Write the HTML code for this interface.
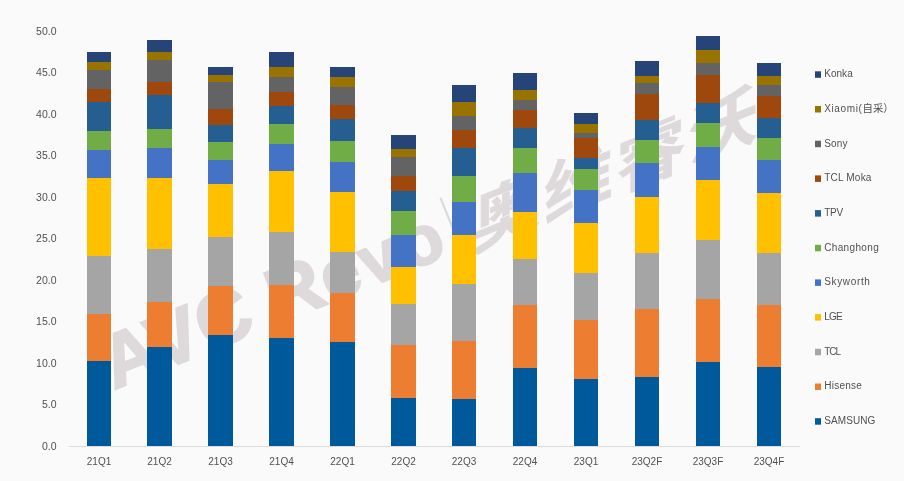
<!DOCTYPE html>
<html><head><meta charset="utf-8"><title>Chart</title>
<style>
html,body{margin:0;padding:0;background:#fafafa;}
body{width:904px;height:481px;overflow:hidden;}
svg{display:block;}
text{font-family:"Liberation Sans","Noto Sans CJK SC",sans-serif;fill:#505050;}
.wm{font-family:"Liberation Sans","Noto Sans CJK SC",sans-serif;font-weight:bold;fill:#dedadc;stroke:#dedadc;}
</style></head><body>
<svg width="904" height="481" viewBox="0 0 904 481">
<rect x="0" y="0" width="904" height="481" fill="#fafafa"/>
<g transform="translate(113.7,390) rotate(-21.9)"><text class="wm" x="0" y="0" font-size="76" letter-spacing="0.5" stroke-width="2">AVC R<tspan font-size="70" letter-spacing="3.8">evo</tspan></text><g transform="translate(375,0) scale(0.45,1)"><text class="wm" x="0" y="-13" font-size="60" text-anchor="middle" style="font-weight:normal" stroke-width="0">|</text></g></g><g transform="translate(471.6,251.1) rotate(-22) skewX(-22) scale(1.2,1)"><text class="wm" x="0" y="0" font-size="62" letter-spacing="3" stroke-width="0.6">奥维睿沃</text></g>
<rect x="69" y="446" width="731" height="1" fill="#dddada"/>
<rect x="87" y="52" width="24" height="10" fill="#264478"/>
<rect x="87" y="62" width="24" height="8" fill="#997300"/>
<rect x="87" y="70" width="24" height="19" fill="#636363"/>
<rect x="87" y="89" width="24" height="13" fill="#9E480E"/>
<rect x="87" y="102" width="24" height="29" fill="#255E91"/>
<rect x="87" y="131" width="24" height="19" fill="#70AD47"/>
<rect x="87" y="150" width="24" height="28" fill="#4472C4"/>
<rect x="87" y="178" width="24" height="78" fill="#FFC000"/>
<rect x="87" y="256" width="24" height="58" fill="#A5A5A5"/>
<rect x="87" y="314" width="24" height="47" fill="#ED7D31"/>
<rect x="87" y="361" width="24" height="85" fill="#00599A"/>
<rect x="147" y="40" width="25" height="12" fill="#264478"/>
<rect x="147" y="52" width="25" height="8" fill="#997300"/>
<rect x="147" y="60" width="25" height="22" fill="#636363"/>
<rect x="147" y="82" width="25" height="13" fill="#9E480E"/>
<rect x="147" y="95" width="25" height="34" fill="#255E91"/>
<rect x="147" y="129" width="25" height="19" fill="#70AD47"/>
<rect x="147" y="148" width="25" height="30" fill="#4472C4"/>
<rect x="147" y="178" width="25" height="71" fill="#FFC000"/>
<rect x="147" y="249" width="25" height="53" fill="#A5A5A5"/>
<rect x="147" y="302" width="25" height="45" fill="#ED7D31"/>
<rect x="147" y="347" width="25" height="99" fill="#00599A"/>
<rect x="208" y="67" width="25" height="8" fill="#264478"/>
<rect x="208" y="75" width="25" height="7" fill="#997300"/>
<rect x="208" y="82" width="25" height="27" fill="#636363"/>
<rect x="208" y="109" width="25" height="16" fill="#9E480E"/>
<rect x="208" y="125" width="25" height="17" fill="#255E91"/>
<rect x="208" y="142" width="25" height="18" fill="#70AD47"/>
<rect x="208" y="160" width="25" height="24" fill="#4472C4"/>
<rect x="208" y="184" width="25" height="53" fill="#FFC000"/>
<rect x="208" y="237" width="25" height="49" fill="#A5A5A5"/>
<rect x="208" y="286" width="25" height="49" fill="#ED7D31"/>
<rect x="208" y="335" width="25" height="111" fill="#00599A"/>
<rect x="269" y="52" width="25" height="15" fill="#264478"/>
<rect x="269" y="67" width="25" height="10" fill="#997300"/>
<rect x="269" y="77" width="25" height="15" fill="#636363"/>
<rect x="269" y="92" width="25" height="14" fill="#9E480E"/>
<rect x="269" y="106" width="25" height="18" fill="#255E91"/>
<rect x="269" y="124" width="25" height="20" fill="#70AD47"/>
<rect x="269" y="144" width="25" height="27" fill="#4472C4"/>
<rect x="269" y="171" width="25" height="61" fill="#FFC000"/>
<rect x="269" y="232" width="25" height="53" fill="#A5A5A5"/>
<rect x="269" y="285" width="25" height="53" fill="#ED7D31"/>
<rect x="269" y="338" width="25" height="108" fill="#00599A"/>
<rect x="330" y="67" width="25" height="10" fill="#264478"/>
<rect x="330" y="77" width="25" height="10" fill="#997300"/>
<rect x="330" y="87" width="25" height="18" fill="#636363"/>
<rect x="330" y="105" width="25" height="14" fill="#9E480E"/>
<rect x="330" y="119" width="25" height="22" fill="#255E91"/>
<rect x="330" y="141" width="25" height="21" fill="#70AD47"/>
<rect x="330" y="162" width="25" height="30" fill="#4472C4"/>
<rect x="330" y="192" width="25" height="60" fill="#FFC000"/>
<rect x="330" y="252" width="25" height="41" fill="#A5A5A5"/>
<rect x="330" y="293" width="25" height="49" fill="#ED7D31"/>
<rect x="330" y="342" width="25" height="104" fill="#00599A"/>
<rect x="391" y="135" width="25" height="14" fill="#264478"/>
<rect x="391" y="149" width="25" height="8" fill="#997300"/>
<rect x="391" y="157" width="25" height="19" fill="#636363"/>
<rect x="391" y="176" width="25" height="15" fill="#9E480E"/>
<rect x="391" y="191" width="25" height="20" fill="#255E91"/>
<rect x="391" y="211" width="25" height="24" fill="#70AD47"/>
<rect x="391" y="235" width="25" height="32" fill="#4472C4"/>
<rect x="391" y="267" width="25" height="37" fill="#FFC000"/>
<rect x="391" y="304" width="25" height="41" fill="#A5A5A5"/>
<rect x="391" y="345" width="25" height="53" fill="#ED7D31"/>
<rect x="391" y="398" width="25" height="48" fill="#00599A"/>
<rect x="452" y="85" width="24" height="17" fill="#264478"/>
<rect x="452" y="102" width="24" height="14" fill="#997300"/>
<rect x="452" y="116" width="24" height="14" fill="#636363"/>
<rect x="452" y="130" width="24" height="18" fill="#9E480E"/>
<rect x="452" y="148" width="24" height="28" fill="#255E91"/>
<rect x="452" y="176" width="24" height="26" fill="#70AD47"/>
<rect x="452" y="202" width="24" height="33" fill="#4472C4"/>
<rect x="452" y="235" width="24" height="49" fill="#FFC000"/>
<rect x="452" y="284" width="24" height="57" fill="#A5A5A5"/>
<rect x="452" y="341" width="24" height="58" fill="#ED7D31"/>
<rect x="452" y="399" width="24" height="47" fill="#00599A"/>
<rect x="513" y="73" width="24" height="17" fill="#264478"/>
<rect x="513" y="90" width="24" height="10" fill="#997300"/>
<rect x="513" y="100" width="24" height="10" fill="#636363"/>
<rect x="513" y="110" width="24" height="18" fill="#9E480E"/>
<rect x="513" y="128" width="24" height="20" fill="#255E91"/>
<rect x="513" y="148" width="24" height="25" fill="#70AD47"/>
<rect x="513" y="173" width="24" height="39" fill="#4472C4"/>
<rect x="513" y="212" width="24" height="47" fill="#FFC000"/>
<rect x="513" y="259" width="24" height="46" fill="#A5A5A5"/>
<rect x="513" y="305" width="24" height="63" fill="#ED7D31"/>
<rect x="513" y="368" width="24" height="78" fill="#00599A"/>
<rect x="574" y="113" width="24" height="11" fill="#264478"/>
<rect x="574" y="124" width="24" height="9" fill="#997300"/>
<rect x="574" y="133" width="24" height="5" fill="#636363"/>
<rect x="574" y="138" width="24" height="20" fill="#9E480E"/>
<rect x="574" y="158" width="24" height="11" fill="#255E91"/>
<rect x="574" y="169" width="24" height="21" fill="#70AD47"/>
<rect x="574" y="190" width="24" height="33" fill="#4472C4"/>
<rect x="574" y="223" width="24" height="50" fill="#FFC000"/>
<rect x="574" y="273" width="24" height="47" fill="#A5A5A5"/>
<rect x="574" y="320" width="24" height="59" fill="#ED7D31"/>
<rect x="574" y="379" width="24" height="67" fill="#00599A"/>
<rect x="635" y="61" width="24" height="15" fill="#264478"/>
<rect x="635" y="76" width="24" height="7" fill="#997300"/>
<rect x="635" y="83" width="24" height="11" fill="#636363"/>
<rect x="635" y="94" width="24" height="26" fill="#9E480E"/>
<rect x="635" y="120" width="24" height="20" fill="#255E91"/>
<rect x="635" y="140" width="24" height="23" fill="#70AD47"/>
<rect x="635" y="163" width="24" height="34" fill="#4472C4"/>
<rect x="635" y="197" width="24" height="56" fill="#FFC000"/>
<rect x="635" y="253" width="24" height="56" fill="#A5A5A5"/>
<rect x="635" y="309" width="24" height="68" fill="#ED7D31"/>
<rect x="635" y="377" width="24" height="69" fill="#00599A"/>
<rect x="696" y="36" width="24" height="14" fill="#264478"/>
<rect x="696" y="50" width="24" height="13" fill="#997300"/>
<rect x="696" y="63" width="24" height="12" fill="#636363"/>
<rect x="696" y="75" width="24" height="28" fill="#9E480E"/>
<rect x="696" y="103" width="24" height="20" fill="#255E91"/>
<rect x="696" y="123" width="24" height="24" fill="#70AD47"/>
<rect x="696" y="147" width="24" height="33" fill="#4472C4"/>
<rect x="696" y="180" width="24" height="60" fill="#FFC000"/>
<rect x="696" y="240" width="24" height="59" fill="#A5A5A5"/>
<rect x="696" y="299" width="24" height="63" fill="#ED7D31"/>
<rect x="696" y="362" width="24" height="84" fill="#00599A"/>
<rect x="757" y="63" width="24" height="13" fill="#264478"/>
<rect x="757" y="76" width="24" height="9" fill="#997300"/>
<rect x="757" y="85" width="24" height="11" fill="#636363"/>
<rect x="757" y="96" width="24" height="22" fill="#9E480E"/>
<rect x="757" y="118" width="24" height="20" fill="#255E91"/>
<rect x="757" y="138" width="24" height="22" fill="#70AD47"/>
<rect x="757" y="160" width="24" height="33" fill="#4472C4"/>
<rect x="757" y="193" width="24" height="60" fill="#FFC000"/>
<rect x="757" y="253" width="24" height="52" fill="#A5A5A5"/>
<rect x="757" y="305" width="24" height="62" fill="#ED7D31"/>
<rect x="757" y="367" width="24" height="79" fill="#00599A"/>
<text x="56.5" y="449.8" font-size="10.5" text-anchor="end">0.0</text>
<text x="56.5" y="408.3" font-size="10.5" text-anchor="end">5.0</text>
<text x="56.5" y="366.8" font-size="10.5" text-anchor="end">10.0</text>
<text x="56.5" y="325.3" font-size="10.5" text-anchor="end">15.0</text>
<text x="56.5" y="283.8" font-size="10.5" text-anchor="end">20.0</text>
<text x="56.5" y="242.3" font-size="10.5" text-anchor="end">25.0</text>
<text x="56.5" y="200.8" font-size="10.5" text-anchor="end">30.0</text>
<text x="56.5" y="159.3" font-size="10.5" text-anchor="end">35.0</text>
<text x="56.5" y="117.8" font-size="10.5" text-anchor="end">40.0</text>
<text x="56.5" y="76.3" font-size="10.5" text-anchor="end">45.0</text>
<text x="56.5" y="34.8" font-size="10.5" text-anchor="end">50.0</text>
<text x="99.0" y="465" font-size="10" text-anchor="middle">21Q1</text>
<text x="159.5" y="465" font-size="10" text-anchor="middle">21Q2</text>
<text x="220.5" y="465" font-size="10" text-anchor="middle">21Q3</text>
<text x="281.5" y="465" font-size="10" text-anchor="middle">21Q4</text>
<text x="342.5" y="465" font-size="10" text-anchor="middle">22Q1</text>
<text x="403.5" y="465" font-size="10" text-anchor="middle">22Q2</text>
<text x="464.0" y="465" font-size="10" text-anchor="middle">22Q3</text>
<text x="525.0" y="465" font-size="10" text-anchor="middle">22Q4</text>
<text x="586.0" y="465" font-size="10" text-anchor="middle">23Q1</text>
<text x="647.0" y="465" font-size="10" text-anchor="middle">23Q2F</text>
<text x="708.0" y="465" font-size="10" text-anchor="middle">23Q3F</text>
<text x="769.0" y="465" font-size="10" text-anchor="middle">23Q4F</text>
<rect x="815" y="71.3" width="6" height="6.5" fill="#264478"/>
<text x="824.2" y="77.2" font-size="10" textLength="28.5" lengthAdjust="spacing">Konka</text>
<rect x="815" y="106.0" width="6" height="6.5" fill="#997300"/>
<text x="824.2" y="111.9" font-size="10"><tspan textLength="37.7" lengthAdjust="spacing">Xiaomi(</tspan><tspan x="862.6" font-size="10.4">自采）</tspan></text>
<rect x="815" y="140.7" width="6" height="6.5" fill="#636363"/>
<text x="824.2" y="146.6" font-size="10" textLength="23.3" lengthAdjust="spacing">Sony</text>
<rect x="815" y="175.4" width="6" height="6.5" fill="#9E480E"/>
<text x="824.2" y="181.3" font-size="10" textLength="47.2" lengthAdjust="spacing">TCL Moka</text>
<rect x="815" y="210.1" width="6" height="6.5" fill="#255E91"/>
<text x="824.2" y="216.0" font-size="10" textLength="18.9" lengthAdjust="spacing">TPV</text>
<rect x="815" y="244.8" width="6" height="6.5" fill="#70AD47"/>
<text x="824.2" y="250.6" font-size="10" textLength="54.5" lengthAdjust="spacing">Changhong</text>
<rect x="815" y="279.4" width="6" height="6.5" fill="#4472C4"/>
<text x="824.2" y="285.3" font-size="10" textLength="45.7" lengthAdjust="spacing">Skyworth</text>
<rect x="815" y="314.1" width="6" height="6.5" fill="#FFC000"/>
<text x="824.2" y="320.0" font-size="10" textLength="18.4" lengthAdjust="spacing">LGE</text>
<rect x="815" y="348.8" width="6" height="6.5" fill="#A5A5A5"/>
<text x="824.2" y="354.7" font-size="10" textLength="16.9" lengthAdjust="spacing">TCL</text>
<rect x="815" y="383.5" width="6" height="6.5" fill="#ED7D31"/>
<text x="824.2" y="389.4" font-size="10" textLength="37.6" lengthAdjust="spacing">Hisense</text>
<rect x="815" y="418.2" width="6" height="6.5" fill="#00599A"/>
<text x="824.2" y="424.1" font-size="10" textLength="51.2" lengthAdjust="spacing">SAMSUNG</text>
</svg></body></html>
